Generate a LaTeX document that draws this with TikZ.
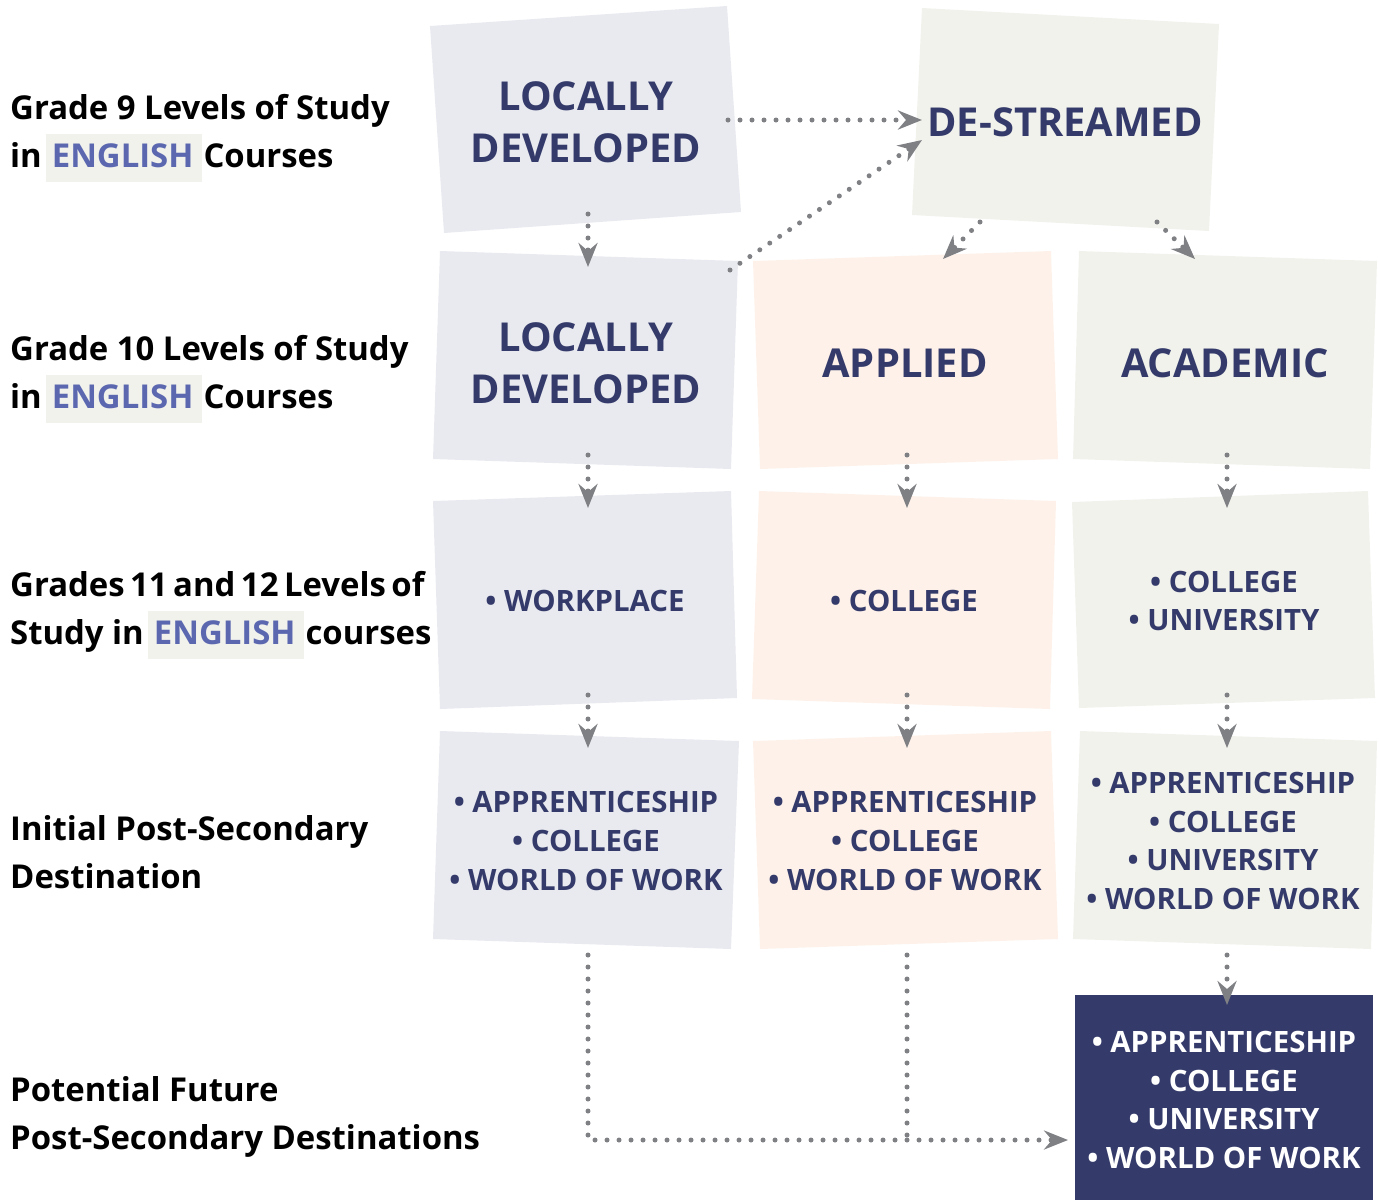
\documentclass[tikz,border=0pt]{standalone}
\usepackage{fontspec}
\setmainfont{Open Sans}
\usepackage{xcolor}
\usepackage{tikz}
\usetikzlibrary{arrows.meta}

\definecolor{ldbg}{HTML}{E9EAF0}
\definecolor{apbg}{HTML}{FDF1EA}
\definecolor{acbg}{HTML}{F1F2EC}
\definecolor{navy}{HTML}{343B6A}
\definecolor{engblue}{HTML}{5B68B0}
\definecolor{flowgrey}{HTML}{7F8084}

\newcommand{\eng}{\begingroup\setlength{\fboxsep}{0pt}\hspace{4bp}\colorbox{acbg}{\strut\hspace{6bp}\textcolor{engblue}{ENGLISH}\hspace{8bp}}\hspace{2bp}\endgroup}
\newcommand{\tightwords}{\spaceskip=5.5bp\relax}

\begin{document}
\begin{tikzpicture}[x=1bp, y=-1bp,
    big/.style={text=navy, font=\fontsize{40}{52}\selectfont\bfseries, align=center},
    list/.style={text=navy, font=\fontsize{29.5}{39}\selectfont\bfseries, align=center},
    rowlabel/.style={anchor=west, align=left, inner sep=0pt, font=\fontsize{33}{48}\selectfont\bfseries},
    flow/.style={draw=flowgrey, line width=5bp, line cap=round, dash pattern=on 0bp off 12bp,
        -{Stealth[length=24bp, width=19bp, inset=8bp]}},
    flowline/.style={draw=flowgrey, line width=5bp, line cap=round, dash pattern=on 0bp off 12bp}]
    \useasboundingbox (0,0) rectangle (1379,1200);

    % Row labels on the left
    \node[rowlabel] (lab9) at (10,138) {Grade 9 Levels of Study\\in\eng{}Courses};
    \node[rowlabel] (lab10) at (10,379) {Grade 10 Levels of Study\\in\eng{}Courses};
    \node[rowlabel] (lab11) at (10,615) {\tightwords Grades 11 and 12 Levels of\\Study in\eng{}courses};
    \node[rowlabel] (labinit) at (10,852) {Initial Post-Secondary\\Destination};
    \node[rowlabel] (labfut) at (10,1117) {Potential Future\\Post-Secondary Destinations};

    % Grade 9 boxes
    \fill[ldbg] (430,26) -- (727,6) -- (741,212) -- (444,233) -- cycle;
    \fill[acbg] (922,8) -- (1219,24) -- (1209,231) -- (912,215) -- cycle;
    \node[big] (ld9) at (586,122) {LOCALLY\\DEVELOPED};
    \node[big] (de) at (1065,122) {DE-STREAMED};

    % Grade 10 boxes
    \fill[ldbg] (440,251) -- (738,261) -- (731,469) -- (433,459) -- cycle;
    \fill[apbg] (753,261) -- (1051,251) -- (1058,459) -- (760,469) -- cycle;
    \fill[acbg] (1079,251) -- (1377,261) -- (1370,469) -- (1073,459) -- cycle;
    \node[big] (ld10) at (586,363) {LOCALLY\\DEVELOPED};
    \node[big] (app) at (905,363) {APPLIED};
    \node[big] (acad) at (1225,363) {ACADEMIC};

    % Grades 11 and 12 boxes
    \fill[ldbg] (433,501) -- (731,491) -- (737,698) -- (440,709) -- cycle;
    \fill[apbg] (759,491) -- (1056,501) -- (1050,709) -- (752,699) -- cycle;
    \fill[acbg] (1072,502) -- (1368,491) -- (1375,698) -- (1079,708) -- cycle;
    \node[list] (work) at (585,601) {\textbullet{} WORKPLACE};
    \node[list] (coll) at (904,601) {\textbullet{} COLLEGE};
    \node[list] (cu) at (1224,601) {\textbullet{} COLLEGE\\\textbullet{} UNIVERSITY};

    % Initial destinations
    \fill[ldbg] (440,731) -- (739,741) -- (731,949) -- (433,939) -- cycle;
    \fill[apbg] (753,741) -- (1051,731) -- (1058,939) -- (760,949) -- cycle;
    \fill[acbg] (1080,731) -- (1377,741) -- (1371,949) -- (1073,939) -- cycle;
    \node[list] (ild) at (586,841) {\textbullet{} APPRENTICESHIP\\\textbullet{} COLLEGE\\\textbullet{} WORLD OF WORK};
    \node[list] (iapp) at (905,841) {\textbullet{} APPRENTICESHIP\\\textbullet{} COLLEGE\\\textbullet{} WORLD OF WORK};
    \node[list] (iacad) at (1223,841) {\textbullet{} APPRENTICESHIP\\\textbullet{} COLLEGE\\\textbullet{} UNIVERSITY\\\textbullet{} WORLD OF WORK};

    % Future destinations
    \fill[navy] (1075,995) rectangle (1373,1200);
    \node[list, text=white] (fut) at (1224,1100) {\textbullet{} APPRENTICESHIP\\\textbullet{} COLLEGE\\\textbullet{} UNIVERSITY\\\textbullet{} WORLD OF WORK};

    % Connector ends
    \coordinate (ld9-e) at (728,120);
    \coordinate (de-w) at (922,120);
    \coordinate (de-sw) at (922,140);
    \coordinate (ld10-ne) at (730,270);
    \coordinate (ld9-s) at (588,214);
    \coordinate (ld10-n) at (588,267);
    \coordinate (de-s1) at (980,222);
    \coordinate (app-n) at (943,259);
    \coordinate (de-s2) at (1157,222);
    \coordinate (acad-n) at (1195,259);
    \coordinate (ld10-s) at (588,455);
    \coordinate (work-n) at (588,508);
    \coordinate (app-s) at (907,455);
    \coordinate (coll-n) at (907,508);
    \coordinate (acad-s) at (1227,455);
    \coordinate (cu-n) at (1227,508);
    \coordinate (work-s) at (588,695);
    \coordinate (ild-n) at (588,748);
    \coordinate (coll-s) at (907,695);
    \coordinate (iapp-n) at (907,748);
    \coordinate (cu-s) at (1227,695);
    \coordinate (iacad-n) at (1227,748);
    \coordinate (iacad-s) at (1227,955);
    \coordinate (fut-n) at (1227,1005);
    \coordinate (ild-s) at (588,955);
    \coordinate (iapp-s) at (907,955);
    \coordinate (fut-w) at (1068,1140);
    \coordinate (join) at (907,1138);

    % Flow arrows
    \draw[flow] (ld9-e) -- (de-w);
    \draw[flow] (ld10-ne) -- (de-sw);
    \draw[flow] (ld9-s) -- (ld10-n);
    \draw[flow] (de-s1) -- (app-n);
    \draw[flow] (de-s2) -- (acad-n);
    \draw[flow] (ld10-s) -- (work-n);
    \draw[flow] (app-s) -- (coll-n);
    \draw[flow] (acad-s) -- (cu-n);
    \draw[flow] (work-s) -- (ild-n);
    \draw[flow] (coll-s) -- (iapp-n);
    \draw[flow] (cu-s) -- (iacad-n);
    \draw[flow] (iacad-s) -- (fut-n);
    \draw[flow] (ild-s) |- (fut-w);
    \draw[flowline] (iapp-s) -- (join);
\end{tikzpicture}
\end{document}
